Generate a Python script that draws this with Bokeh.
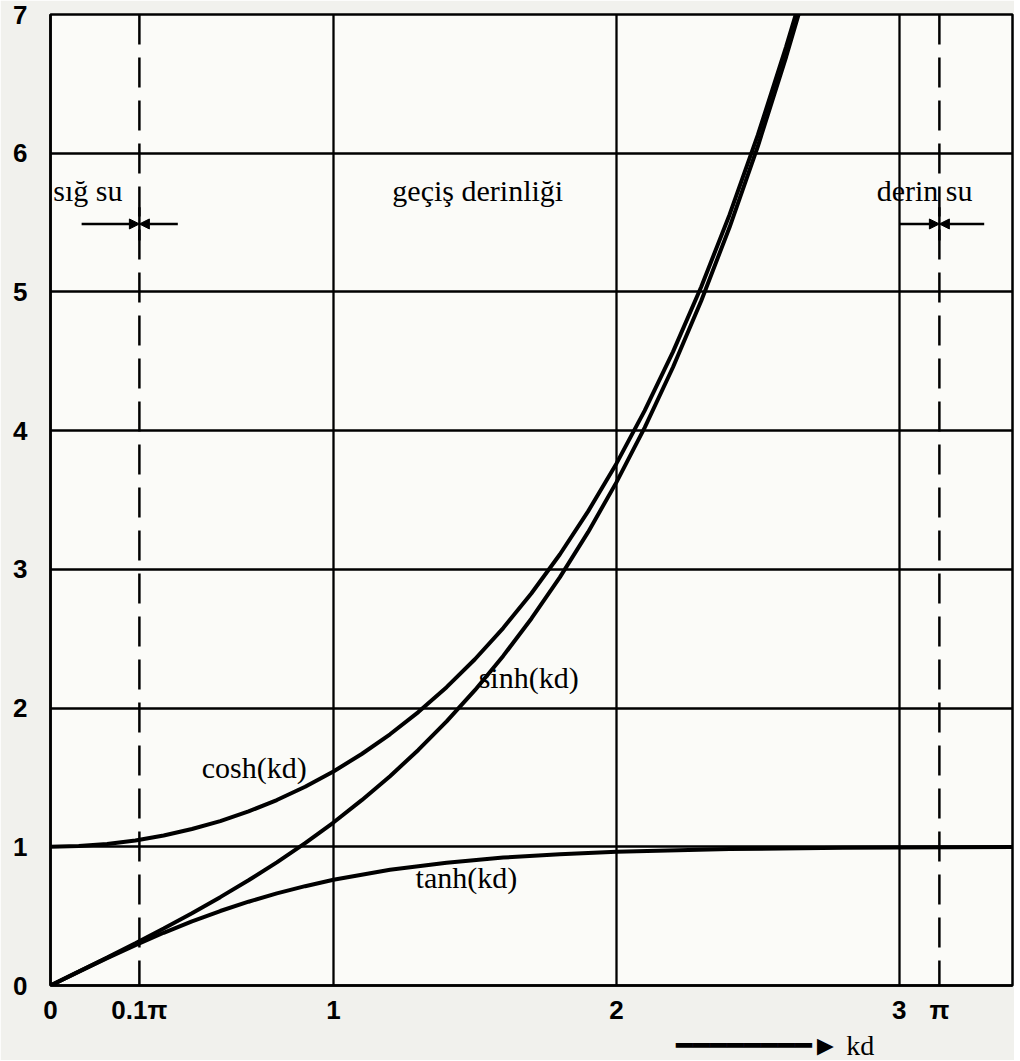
from bokeh.plotting import figure
from bokeh.models import (FixedTicker, Span, Arrow, NormalHead, Label, Range1d, Title)
from bokeh.embed import file_html
from bokeh.resources import INLINE
import math

# ---------------- data ----------------
kd_c = [0, 0.1, 0.2, 0.3, 0.4, 0.5, 0.6, 0.7, 0.8, 0.9, 1.0, 1.1, 1.2, 1.3, 1.4,
        1.5, 1.6, 1.7, 1.8, 1.9, 2.0, 2.1, 2.2, 2.3, 2.4, 2.5, 2.6, 2.634]
cosh_vals = [1.00, 1.005, 1.02, 1.045, 1.081, 1.128, 1.185, 1.255, 1.337, 1.433, 1.543,
             1.669, 1.811, 1.971, 2.151, 2.352, 2.577, 2.828, 3.107, 3.418, 3.762,
             4.144, 4.568, 5.037, 5.557, 6.132, 6.769, 7.0]

kd_s = [0, 0.1, 0.2, 0.3, 0.4, 0.5, 0.6, 0.7, 0.8, 0.9, 1.0, 1.1, 1.2, 1.3, 1.4,
        1.5, 1.6, 1.7, 1.8, 1.9, 2.0, 2.1, 2.2, 2.3, 2.4, 2.5, 2.6, 2.644]
sinh_vals = [0.0, 0.10, 0.201, 0.305, 0.411, 0.521, 0.637, 0.759, 0.888, 1.027, 1.175,
             1.336, 1.509, 1.698, 1.904, 2.129, 2.376, 2.646, 2.942, 3.268, 3.627,
             4.022, 4.457, 4.937, 5.466, 6.05, 6.695, 7.0]

kd_t = [0, 0.1, 0.2, 0.3, 0.4, 0.5, 0.6, 0.7, 0.8, 0.9, 1.0, 1.2, 1.4, 1.6, 1.8,
        2.0, 2.4, 2.8, 3.4]
tanh_vals = [0.0, 0.10, 0.197, 0.291, 0.38, 0.462, 0.537, 0.604, 0.664, 0.716, 0.762,
             0.834, 0.885, 0.922, 0.947, 0.964, 0.984, 0.993, 0.998]

x_ticks = [0, 0.1 * math.pi, 1, 2, 3, math.pi]
x_tick_labels = ["0", "0.1π", "1", "2", "3", "π"]
y_ticks = [0, 1, 2, 3, 4, 5, 6, 7]
x_grid = [1, 2, 3]
y_grid = [1, 2, 3, 4, 5, 6]
dashed_x = [0.1 * math.pi, math.pi]

curve_labels = ["cosh(kd)", "sinh(kd)", "tanh(kd)"]
curve_label_x = [0.72, 1.69, 1.47]
curve_label_y = [1.57, 2.22, 0.78]

zone_labels = ["sığ su", "geçiş derinliği", "derin su"]
zone_label_x = [0.01, 1.51, 2.92]
zone_label_y = [5.73, 5.73, 5.73]

# ---------------- figure ----------------
p = figure(width=1014, height=1060, output_backend="svg", toolbar_location=None,
           x_range=Range1d(0, 3.4), y_range=Range1d(0, 7),
           min_border_left=50, min_border_right=2, min_border_top=14, min_border_bottom=30)

p.background_fill_color = "#fbfbf8"
p.border_fill_color = "#f1f1ed"
p.outline_line_color = "black"
p.outline_line_width = 2.5

p.xaxis.ticker = FixedTicker(ticks=x_ticks)
p.xaxis.major_label_overrides = {t: l for t, l in zip(x_ticks, x_tick_labels)}
p.yaxis.ticker = FixedTicker(ticks=y_ticks)
for ax in (p.xaxis, p.yaxis):
    ax.axis_line_color = "black"
    ax.axis_line_width = 2.5
    ax.major_tick_line_color = None
    ax.minor_tick_line_color = None
    ax.major_label_text_font = "Liberation Sans"
    ax.major_label_text_font_style = "bold"
    ax.major_label_text_font_size = "26px"
    ax.major_label_text_color = "black"
p.xaxis.major_label_standoff = 3
p.yaxis.major_label_standoff = 17

p.xgrid.ticker = FixedTicker(ticks=x_grid)
p.ygrid.ticker = FixedTicker(ticks=y_grid)
for g in (p.xgrid, p.ygrid):
    g.grid_line_color = "black"
    g.grid_line_width = 2.3
    g.grid_line_alpha = 1

for xv in dashed_x:
    p.add_layout(Span(location=xv, dimension="height", line_color="black",
                      line_width=2.5, line_dash="30 13"))

# curves
p.line(kd_c, cosh_vals, line_color="black", line_width=4)
p.line(kd_s, sinh_vals, line_color="black", line_width=4)
p.line(kd_t, tanh_vals, line_color="black", line_width=4)

# curve labels
for t, xv, yv in zip(curve_labels, curve_label_x, curve_label_y):
    p.add_layout(Label(x=xv, y=yv, text=t, text_font="Liberation Serif",
                       text_font_size="30px", text_color="black",
                       text_align="center", text_baseline="middle"))

# zone labels
for t, xv, yv, al in zip(zone_labels, zone_label_x, zone_label_y, ["left", "center", "left"]):
    p.add_layout(Label(x=xv, y=yv, text=t, text_font="Liberation Serif",
                       text_font_size="30px", text_color="black",
                       text_align=al, text_baseline="middle"))

# zone arrows
arrow_y = 5.49
arrows = [(0.11, 0.1 * math.pi), (0.45, 0.1 * math.pi), (3.0, math.pi), (3.30, math.pi)]
for xs, xe in arrows:
    p.add_layout(Arrow(x_start=xs, y_start=arrow_y, x_end=xe, y_end=arrow_y,
                       line_color="black", line_width=2.5,
                       end=NormalHead(size=10, fill_color="black", line_color="black")))
p.segment(x0=[0.1 * math.pi, math.pi], y0=[arrow_y - 0.12] * 2,
          x1=[0.1 * math.pi, math.pi], y1=[arrow_y + 0.12] * 2,
          line_color="black", line_width=2.5)

# x-axis caption: arrow + kd
p.add_layout(Title(text="━━━━━━━━► kd", align="left", offset=625,
                   text_font="Liberation Serif", text_font_size="28px",
                   text_font_style="normal", text_color="black", standoff=0), "below")

open("out.html", "w").write(file_html(p, INLINE))
